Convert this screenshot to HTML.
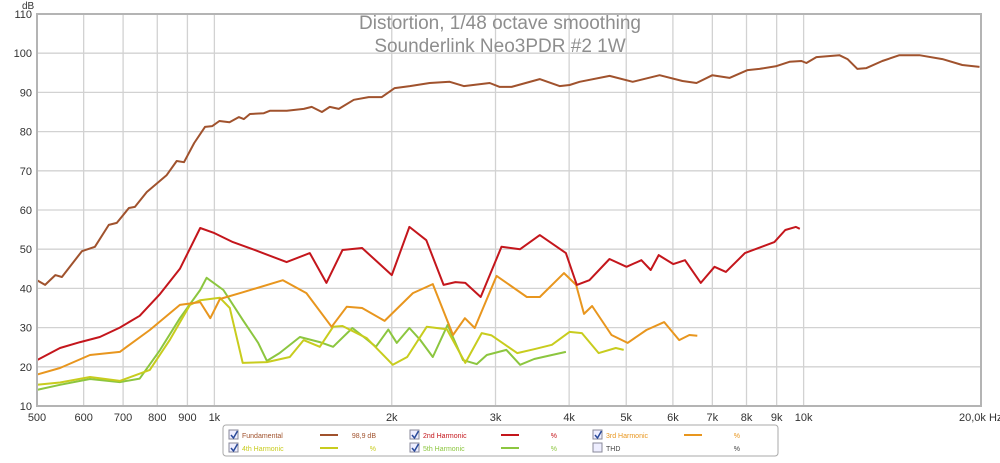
<!DOCTYPE html>
<html><head><meta charset="utf-8"><style>
body{margin:0;background:#fff;width:1000px;height:458px;overflow:hidden;font-family:"Liberation Sans",sans-serif}
svg text{font-family:"Liberation Sans",sans-serif}
</style></head><body>
<svg id="chart" width="1000" height="458" viewBox="0 0 1000 458" xmlns="http://www.w3.org/2000/svg">
<g id="grid"></g>
<g id="series"></g>
<rect x="37" y="14" width="944" height="392" fill="none" stroke="#b4b4b4" stroke-width="2"/>
<text x="500" y="29" text-anchor="middle" font-size="19" fill="#8e8e8e">Distortion, 1/48 octave smoothing</text>
<text x="500" y="52" text-anchor="middle" font-size="19" fill="#8e8e8e">Sounderlink Neo3PDR #2 1W</text>
<text x="22" y="9" font-size="10" fill="#333">dB</text>
<g id="legend">
<rect x="223" y="425" width="555" height="31" rx="3" fill="#fff" stroke="#aaa"/>
</g>
</svg>
<script>
const yTicks=[10,20,30,40,50,60,70,80,90,100,110];
const xTicks=[500,600,700,800,900,1000,2000,3000,4000,5000,6000,7000,8000,9000,10000,20000];
const xTickLabels=["500","600","700","800","900","1k","2k","3k","4k","5k","6k","7k","8k","9k","10k","20,0k Hz"];
const fundF=[500,516,537,551,596,627,662,683,716,733,768,830,863,888,924,964,992,1020,1061,1100,1122,1149,1213,1242,1327,1418,1463,1522,1570,1626,1724,1828,1924,2023,2146,2320,2508,2650,2932,3049,3195,3565,3853,4008,4167,4685,5127,5696,6230,6580,7002,7485,8033,8416,8994,9462,9918,10110,10513,11502,11870,12340,12780,13600,14540,15720,17200,18590,19880];
const fundV=[42.1,40.9,43.4,42.9,49.5,50.6,56.2,56.7,60.5,60.8,64.6,68.9,72.5,72.2,77.1,81.2,81.4,82.7,82.4,83.7,83.2,84.5,84.7,85.3,85.3,85.8,86.3,85,86.3,85.8,88.1,88.8,88.8,91.1,91.6,92.4,92.7,91.6,92.4,91.4,91.4,93.4,91.6,91.9,92.7,94.2,92.7,94.4,92.9,92.4,94.4,93.7,95.7,96,96.7,97.8,98,97.5,99,99.5,98.5,96,96.2,98,99.5,99.5,98.5,97,96.5];
const h2F=[500,547,592,639,691,747,809,874,946,1000,1075,1161,1326,1452,1549,1650,1781,2000,2143,2289,2449,2565,2666,2831,3071,3303,3567,3950,4122,4330,4683,5006,5306,5502,5676,6010,6290,6690,7060,7380,7950,8920,9310,9700,9850];
const h2V=[21.7,24.8,26.3,27.6,30,33,38.6,45,55.4,54.1,51.8,50,46.7,49,41.4,49.8,50.3,43.4,55.7,52.3,40.9,41.6,41.4,37.8,50.6,50,53.6,49,40.9,42.1,47.5,45.5,47.2,44.7,48.5,46.2,47.2,41.4,45.5,44.2,49,51.8,54.9,55.7,55.2];
const h3F=[500,547,615,691,777,874,946,984,1022,1117,1307,1433,1581,1677,1781,1945,2172,2348,2541,2662,2766,3013,3390,3567,3920,4110,4240,4375,4720,5027,5410,5800,6150,6400,6600];
const h3V=[18,19.7,23,23.8,29.4,35.8,36.5,32.4,37.3,39,42.1,38.8,30.2,35.3,35,31.7,38.8,41.1,28.1,32.4,29.9,43.2,37.8,37.8,43.9,40.9,33.5,35.5,28.1,26.1,29.4,31.4,26.8,28.1,27.9];
const h4F=[500,547,615,691,777,841,909,946,1022,1062,1117,1228,1343,1417,1510,1590,1650,1814,2008,2124,2293,2480,2666,2842,2954,3265,3490,3740,4005,4205,4490,4800,4950];
const h4V=[15.4,16,17.4,16.4,19.2,27,35.8,37,37.6,35,21,21.2,22.5,26.8,25.1,30.2,30.4,27.3,20.5,22.5,30.2,29.6,21,28.6,28,23.5,24.5,25.6,28.9,28.6,23.5,24.8,24.3];
const h5F=[500,547,615,691,747,809,874,946,970,1036,1117,1187,1228,1290,1397,1510,1590,1715,1814,1880,1973,2040,2143,2232,2348,2488,2642,2787,2900,3130,3303,3490,3740,3950];
const h5V=[14.1,15.4,16.9,16.1,17,24.3,32.4,39.6,42.7,39.6,32,26.1,21.5,23.5,27.6,26.3,25.1,29.9,27,25.1,29.5,26.1,29.9,27,22.5,30.7,21.7,20.7,23,24.3,20.5,22,23,23.8];

const X0=37,X1=981,Y0=406,Y1=14;
const xs=f=>X0+(Math.log2(f/500))/(Math.log2(40))*(X1-X0);
const ys=v=>Y0-(v-10)/100*(Y0-Y1);
const NS="http://www.w3.org/2000/svg";
const grid=document.getElementById('grid');
yTicks.forEach(t=>{
  const l=document.createElementNS(NS,'line');
  l.setAttribute('x1',X0);l.setAttribute('x2',X1);l.setAttribute('y1',ys(t));l.setAttribute('y2',ys(t));
  l.setAttribute('stroke','#d2d2d2');l.setAttribute('stroke-width','1.3');
  
  
  grid.appendChild(l);
  const tx=document.createElementNS(NS,'text');
  tx.setAttribute('x',X0-5);tx.setAttribute('y',ys(t)+4);tx.setAttribute('text-anchor','end');
  tx.setAttribute('font-size','11');tx.setAttribute('fill','#333');tx.textContent=t;
  
  
  grid.appendChild(tx);
});
xTicks.forEach((t,i)=>{
  const l=document.createElementNS(NS,'line');
  l.setAttribute('x1',xs(t));l.setAttribute('x2',xs(t));l.setAttribute('y1',Y1);l.setAttribute('y2',Y0);
  l.setAttribute('stroke','#d2d2d2');l.setAttribute('stroke-width','1.3');
  
  
  grid.appendChild(l);
  const tx=document.createElementNS(NS,'text');
  const last=i===xTicks.length-1;
  tx.setAttribute('x',last?xs(t)-22:xs(t));tx.setAttribute('y',421);tx.setAttribute('text-anchor',last?'start':'middle');
  tx.setAttribute('font-size','11');tx.setAttribute('fill','#333');tx.textContent=xTickLabels[i];
  
  
  grid.appendChild(tx);
});
const ser=document.getElementById('series');
function draw(F,V,col,name){
  const p=document.createElementNS(NS,'polyline');
  p.setAttribute('points',F.map((f,i)=>xs(f).toFixed(1)+','+ys(V[i]).toFixed(1)).join(' '));
  p.setAttribute('fill','none');p.setAttribute('stroke',col);p.setAttribute('stroke-width','2');
  p.setAttribute('stroke-linejoin','round');
  
  
  ser.appendChild(p);
}
draw(h5F,h5V,'#8cc63f','line-5th-harmonic');
draw(h4F,h4V,'#c8cc1e','line-4th-harmonic');
draw(h3F,h3V,'#e8961e','line-3rd-harmonic');
draw(h2F,h2V,'#c4161c','line-2nd-harmonic');
draw(fundF,fundV,'#a0522d','line-fundamental');

const lg=document.getElementById('legend');
const entries=[
 [231,435,'Fundamental','#a0522d','98,9 dB',true,'legend-fundamental'],
 [412,435,'2nd Harmonic','#c4161c','%',true,'legend-2nd-harmonic'],
 [595,435,'3rd Harmonic','#e8961e','%',true,'legend-3rd-harmonic'],
 [231,448,'4th Harmonic','#c8cc1e','%',true,'legend-4th-harmonic'],
 [412,448,'5th Harmonic','#8cc63f','%',true,'legend-5th-harmonic'],
 [595,448,'THD','#444','%',false,'legend-thd']];
entries.forEach(e=>{
  const g=document.createElementNS(NS,'g');
  
  
  const [x,y,label,col,val,chk]=e;
  g.innerHTML=`<rect x="${x-2}" y="${y-5}" width="9" height="9" fill="#eef" stroke="#889"/>`+
   (chk?`<path d="M${x} ${y} l2.5 3 l4 -7" fill="none" stroke="#2a4a9a" stroke-width="1.5"/>`:'')+
   `<text x="${x+11}" y="${y+3}" font-size="7" fill="${col}">${label}</text>`+
   (label!=='THD'?`<line x1="${x+89}" x2="${x+107}" y1="${y}" y2="${y}" stroke="${col}" stroke-width="2"/>`:'')+
   `<text x="${x+145}" y="${y+3}" font-size="7" text-anchor="end" fill="${col}">${val}</text>`;
  lg.appendChild(g);
});
</script>
</body></html>
